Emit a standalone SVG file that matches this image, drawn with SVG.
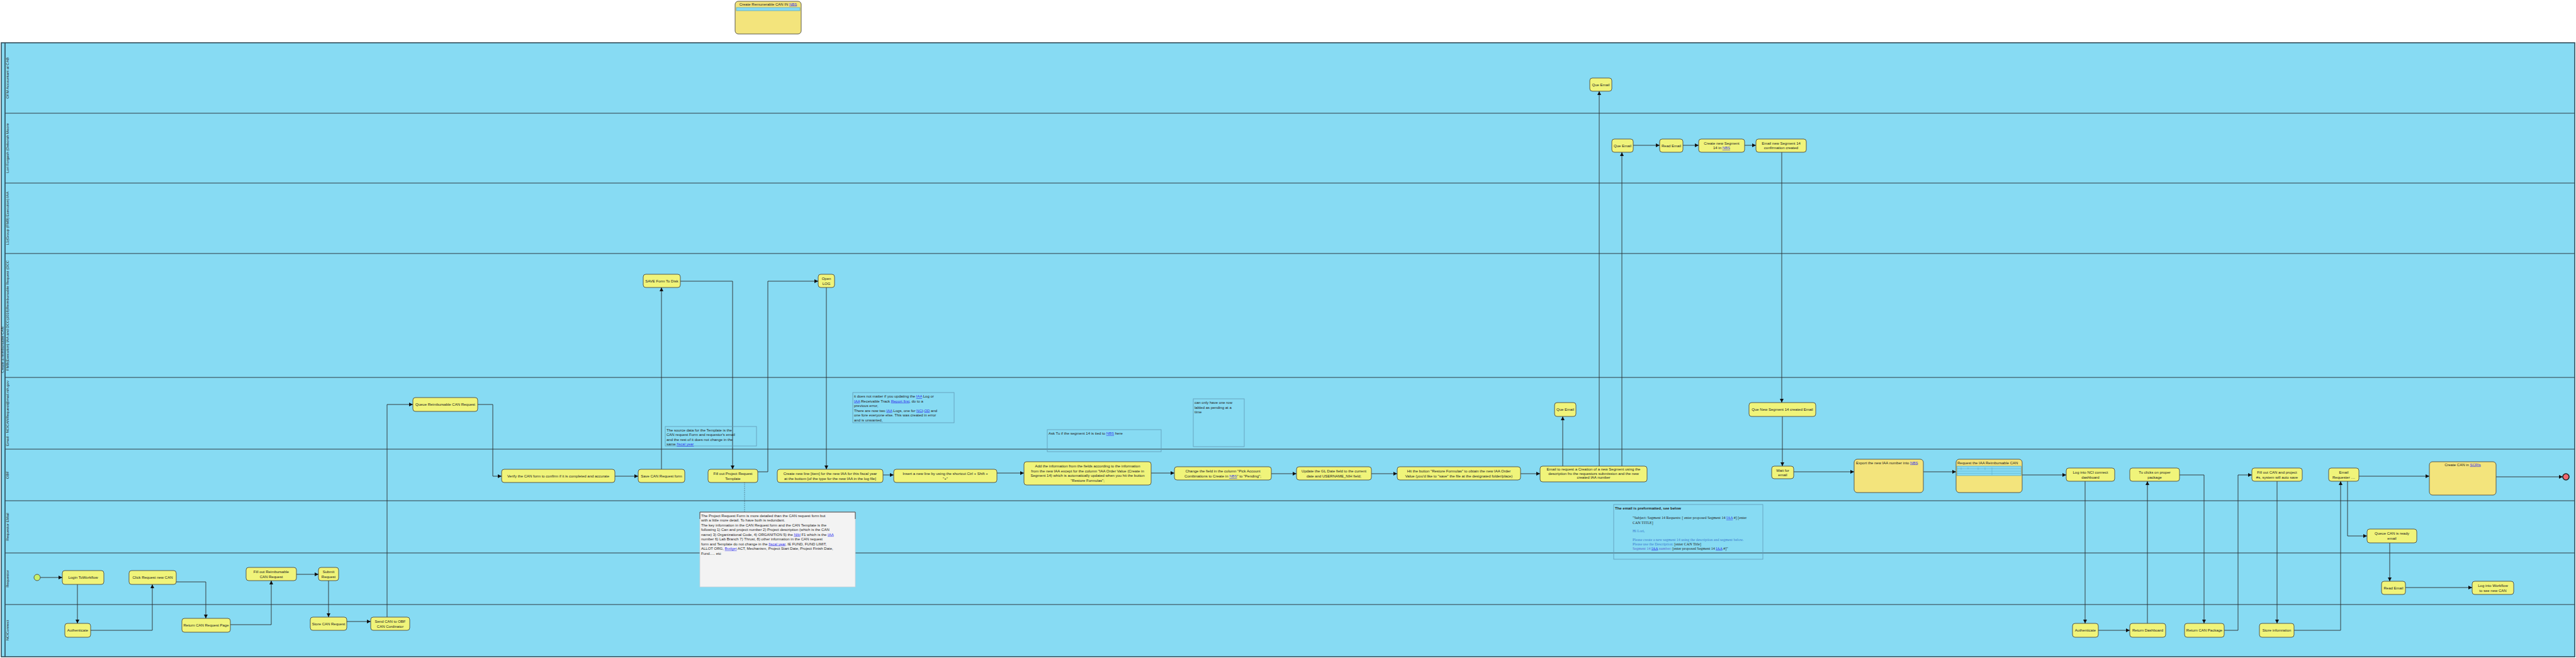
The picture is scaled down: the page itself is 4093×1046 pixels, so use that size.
<svg xmlns="http://www.w3.org/2000/svg" width="4093" height="1046" viewBox="0 0 4093 1046">
<style>
.lane{fill:#87DBF3}
.ll{stroke:#2e3d44;stroke-width:1.1;fill:none}
.pool{stroke:#2e4a58;stroke-width:1.6;fill:none}
.nd{fill:#F0F47A;stroke:#4a4a40;stroke-width:0.9}
.big{fill:#F3E47C;stroke:#4a4a40;stroke-width:0.9}
.note{fill:none;stroke:#5f9ab3;stroke-width:0.8}
.t{font-family:"Liberation Sans",Arial,sans-serif;font-size:6px;fill:#222}
.c{text-anchor:middle}
.lab{font-family:"Liberation Sans",Arial,sans-serif;font-size:6px;fill:#222;text-anchor:middle}
.lk{fill:#3232ee;text-decoration:underline}
.cn{stroke:#2a2a2a;stroke-width:0.9;fill:none;marker-end:url(#ah)}
.sf{font-family:"Liberation Serif","Times New Roman",serif;font-size:6px}
</style>
<defs>
<marker id="ah" viewBox="0 0 10 10" refX="10" refY="5" markerWidth="6" markerHeight="6" markerUnits="userSpaceOnUse" orient="auto">
<path d="M0,0 L10,5 L0,10 z" fill="#111"/>
</marker>
</defs>
<rect x="0" y="0" width="4093" height="1046" fill="#ffffff"/>

<g id="top-note">
<rect x="1168" y="2" width="105" height="52" rx="5" class="big"/>
<text x="1220.5" y="8.5" class="t c" font-size="6.5">Create Remunerable CAN IN <tspan class="lk">NBS</tspan></text>
<rect x="1170" y="12" width="101" height="5" fill="#87DBF3" stroke="#4a9ab8" stroke-width="0.6"/>
</g>

<g id="pool">
<rect x="2" y="68" width="4089" height="976" class="lane"/>
<line x1="8" y1="180" x2="4091" y2="180" class="ll"/>
<line x1="8" y1="291" x2="4091" y2="291" class="ll"/>
<line x1="8" y1="403" x2="4091" y2="403" class="ll"/>
<line x1="8" y1="600" x2="4091" y2="600" class="ll"/>
<line x1="8" y1="714" x2="4091" y2="714" class="ll"/>
<line x1="8" y1="796" x2="4091" y2="796" class="ll"/>
<line x1="8" y1="879" x2="4091" y2="879" class="ll"/>
<line x1="8" y1="961" x2="4091" y2="961" class="ll"/>
<line x1="8" y1="68" x2="8" y2="1044" class="pool"/>
<rect x="2" y="68" width="4089" height="976" class="pool"/>
<text transform="translate(5.5,556) rotate(-90)" class="lab">Create a reimbursable CAN</text>
<text transform="translate(14,124) rotate(-90)" class="lab">OFM Accountant at CAB</text>
<text transform="translate(14,235.5) rotate(-90)" class="lab">Lori Forgash (Deborah Moore</text>
<text transform="translate(14,347) rotate(-90)" class="lab">L1(Group (FMB) Execution) IAA</text>
<text transform="translate(14,501.5) rotate(-90)" class="lab">FMB(Execution) IAA and DCC(2018)Reimbursable Request (DCC</text>
<text transform="translate(14,657) rotate(-90)" class="lab">Email - NCICANRequest@mail.nih.gov</text>
<text transform="translate(14,755) rotate(-90)" class="lab">OBF</text>
<text transform="translate(14,837.5) rotate(-90)" class="lab">Requestor EMail</text>
<text transform="translate(14,920) rotate(-90)" class="lab">Requestor</text>
<text transform="translate(14,1002) rotate(-90)" class="lab">NCIConnect</text>
</g>

<g id="connectors">
<path class="cn" d="M64,918 L99,918"/>
<path class="cn" d="M123,929 L123,991"/>
<path class="cn" d="M144,1002 L242,1002 L242,929"/>
<path class="cn" d="M280,925 L327,925 L327,983"/>
<path class="cn" d="M366,993 L431,993 L431,923"/>
<path class="cn" d="M471,913 L506,913"/>
<path class="cn" d="M522,923 L522,981"/>
<path class="cn" d="M551,988 L589,988"/>
<path class="cn" d="M615,981 L615,643 L656,643"/>
<path class="cn" d="M759,643 L783,643 L783,757 L797,757"/>
<path class="cn" d="M977,757 L1014,757"/>
<path class="cn" d="M1051,746 L1051,457"/>
<path class="cn" d="M1081,447 L1164,447 L1164,746"/>
<path class="cn" d="M1204,750 L1220,750 L1220,447 L1300,447"/>
<path class="cn" d="M1313,457 L1313,746"/>
<path class="cn" d="M1403,755 L1420,755"/>
<path class="cn" d="M1584,752 L1627,752"/>
<path class="cn" d="M1829,752 L1866,752"/>
<path class="cn" d="M2020,753 L2060,753"/>
<path class="cn" d="M2179,753 L2220,753"/>
<path class="cn" d="M2416,753 L2447,753"/>
<path class="cn" d="M2483,741 L2483,662"/>
<path class="cn" d="M2541,741 L2541,145"/>
<path class="cn" d="M2577,741 L2577,242"/>
<path class="cn" d="M2595,231 L2637,231"/>
<path class="cn" d="M2674,231 L2699,231"/>
<path class="cn" d="M2772,231 L2790,231"/>
<path class="cn" d="M2831,242 L2831,640"/>
<path class="cn" d="M2832,662 L2832,741"/>
<path class="cn" d="M2850,750 L2946,750"/>
<path class="cn" d="M3056,750 L3108,750"/>
<path class="cn" d="M3213,755 L3283,755"/>
<path class="cn" d="M3313,765 L3313,991"/>
<path class="cn" d="M3334,1002 L3384,1002"/>
<path class="cn" d="M3412,991 L3412,765"/>
<path class="cn" d="M3463,755 L3502,755 L3502,991"/>
<path class="cn" d="M3534,1002 L3556,1002 L3556,755 L3578,755"/>
<path class="cn" d="M3618,765 L3618,991"/>
<path class="cn" d="M3645,1002 L3719,1002 L3719,765"/>
<path class="cn" d="M3748,757 L3860,757"/>
<path class="cn" d="M3730,765 L3730,852 L3761,852"/>
<path class="cn" d="M3797,863 L3797,924"/>
<path class="cn" d="M3822,934 L3928,934"/>
<path class="cn" d="M3966,758 L4072,758"/>
<path d="M1183,767 L1183,814" stroke="#3a5a6a" stroke-width="0.8" stroke-dasharray="1.5,1.5" fill="none"/>
</g>

<g id="start"><circle cx="59" cy="918" r="5" fill="#C8F06A" stroke="#4a4a40" stroke-width="0.9"/></g>
<g id="end"><circle cx="4077" cy="758" r="5" fill="#F06870" stroke="#222" stroke-width="1.6"/></g>

<g id="n-login"><rect x="99" y="907" width="66" height="22" rx="4" class="nd"/><text x="132" y="920" class="t c">Login ToWorkflow</text></g>
<g id="n-click"><rect x="205" y="907" width="75" height="22" rx="4" class="nd"/><text x="242.5" y="920" class="t c">Click Request new CAN</text></g>
<g id="n-fillreimb"><rect x="391" y="902" width="80" height="21" rx="4" class="nd"/><text x="431" y="911" class="t c">Fill out Reimbursable</text><text x="431" y="919" class="t c">CAN Request</text></g>
<g id="n-submit"><rect x="506" y="902" width="32" height="21" rx="4" class="nd"/><text x="522" y="911" class="t c">Submit</text><text x="522" y="919" class="t c">Request</text></g>
<g id="n-auth1"><rect x="103" y="991" width="41" height="22" rx="4" class="nd"/><text x="123.5" y="1004" class="t c">Authenticate</text></g>
<g id="n-retpage"><rect x="289" y="983" width="77" height="22" rx="4" class="nd"/><text x="327.5" y="996" class="t c">Return CAN Request Page</text></g>
<g id="n-store"><rect x="493" y="981" width="58" height="21" rx="4" class="nd"/><text x="522" y="993.5" class="t c">Store CAN Request</text></g>
<g id="n-send"><rect x="589" y="981" width="62" height="21" rx="4" class="nd"/><text x="620" y="990" class="t c">Send CAN to OBF</text><text x="620" y="998" class="t c">CAN Cordinator</text></g>
<g id="n-queue"><rect x="656" y="632" width="103" height="22" rx="4" class="nd"/><text x="707.5" y="645" class="t c">Queue Reimbursable CAN Request</text></g>
<g id="n-savedisk"><rect x="1022" y="436" width="59" height="21" rx="4" class="nd"/><text x="1051.5" y="448.5" class="t c">SAVE Form To Disk</text></g>
<g id="n-openlog"><rect x="1300" y="436" width="26" height="21" rx="4" class="nd"/><text x="1313" y="445" class="t c">Open</text><text x="1313" y="453" class="t c">LOG</text></g>
<g id="n-verify"><rect x="797" y="746" width="180" height="21" rx="4" class="nd"/><text x="887" y="758.5" class="t c">Verify the CAN form to confirm if it is completed and accurate</text></g>
<g id="n-savecan"><rect x="1014" y="746" width="74" height="21" rx="4" class="nd"/><text x="1051" y="758.5" class="t c">Save CAN Request form</text></g>
<g id="n-fillproj"><rect x="1125" y="746" width="79" height="21" rx="4" class="nd"/><text x="1164.5" y="755" class="t c">Fill out Project Request</text><text x="1164.5" y="763" class="t c">Template</text></g>
<g id="n-createline"><rect x="1235" y="746" width="168" height="21" rx="4" class="nd"/><text x="1319" y="755" class="t c" font-size="5.6">Create new line [item] for the new IAA for this fiscal year</text><text x="1319" y="763" class="t c" font-size="5.6">at the bottom [of the type for the new IAA in the log file]</text></g>
<g id="n-insert"><rect x="1420" y="746" width="164" height="21" rx="4" class="nd"/><text x="1502" y="755" class="t c">Insert a new line by using the shortcut Ctrl + Shift +</text><text x="1502" y="763" class="t c">"+"</text></g>
<g id="n-add"><rect x="1627" y="734" width="202" height="37" rx="4" class="nd"/>
<text x="1728" y="743" class="t c" font-size="5.6">Add the information from the fields according to the information</text>
<text x="1728" y="750.5" class="t c" font-size="5.6">from the new IAA except for the column "IAA Order Value (Create in</text>
<text x="1728" y="758" class="t c" font-size="5.6">Segment 14) which is automatically updated when you hit the button</text>
<text x="1728" y="765.5" class="t c" font-size="5.6">"Restore Formulas";</text></g>
<g id="n-change"><rect x="1866" y="742" width="154" height="21" rx="4" class="nd"/><text x="1943" y="751" class="t c">Change the field in the column "Pick Account</text><text x="1943" y="759" class="t c">Combinations to Create in <tspan class="lk">NBS</tspan>" to "Pending";</text></g>
<g id="n-update"><rect x="2060" y="742" width="119" height="21" rx="4" class="nd"/><text x="2119.5" y="751" class="t c">Update the GL Date field to the current</text><text x="2119.5" y="759" class="t c">date and USERNAME_NIH field;</text></g>
<g id="n-hit"><rect x="2220" y="742" width="196" height="21" rx="4" class="nd"/><text x="2318" y="751" class="t c">Hit the button "Restore Formulas" to obtain the new IAA Order</text><text x="2318" y="759" class="t c">Value (you'd like to "save" the file at the designated folder/place)</text></g>
<g id="n-emailreq"><rect x="2447" y="741" width="170" height="25" rx="4" class="nd"/>
<text x="2532" y="748" class="t c" font-size="5.5">Email to request a Creation of a new Segment using the</text>
<text x="2532" y="754.5" class="t c" font-size="5.5">description fro the requestors submission and the new</text>
<text x="2532" y="761" class="t c" font-size="5.5">created IAA number</text></g>
<g id="n-queemail1"><rect x="2526" y="124" width="35" height="21" rx="4" class="nd"/><text x="2543.5" y="136.5" class="t c">Que Email</text></g>
<g id="n-queemail2"><rect x="2561" y="221" width="34" height="21" rx="4" class="nd"/><text x="2578" y="233.5" class="t c">Que Email</text></g>
<g id="n-reademail"><rect x="2637" y="221" width="37" height="21" rx="4" class="nd"/><text x="2655.5" y="233.5" class="t c">Read Email</text></g>
<g id="n-createseg"><rect x="2699" y="221" width="73" height="21" rx="4" class="nd"/><text x="2735.5" y="230" class="t c">Create new Segment</text><text x="2735.5" y="237" class="t c">14 in <tspan class="lk">NBS</tspan></text></g>
<g id="n-emailnew"><rect x="2790" y="221" width="80" height="21" rx="4" class="nd"/><text x="2830" y="230" class="t c">Email new Segment 14</text><text x="2830" y="237" class="t c">confirmation created</text></g>
<g id="n-queemail3"><rect x="2470" y="640" width="34" height="22" rx="4" class="nd"/><text x="2487" y="653" class="t c">Que Email</text></g>
<g id="n-queseg"><rect x="2779" y="640" width="106" height="22" rx="4" class="nd"/><text x="2832" y="653" class="t c">Que New Segment 14 created Email</text></g>
<g id="n-wait"><rect x="2815" y="741" width="35" height="20" rx="4" class="nd"/><text x="2832.5" y="749.5" class="t c">Wait for</text><text x="2832.5" y="756.5" class="t c">email</text></g>
<g id="n-export"><rect x="2946" y="730" width="110" height="53" rx="5" class="big"/><text x="2949" y="737.5" class="t">Export the new IAA number into <tspan class="lk">NBS</tspan></text></g>
<g id="n-reqiaa"><rect x="3108" y="730" width="105" height="53" rx="5" class="big"/><text x="3110" y="737.5" class="t">Request the IAA Reimbursable CAN</text>
<rect x="3109.5" y="741" width="102" height="15" fill="#87DBF3" stroke="#4a9ab8" stroke-width="0.6"/>
<path d="M3110,745 H3211 M3110,749 H3211 M3110,752.5 H3211 M3116,743 V747 M3127,743 V746 M3143,743 V747 M3154,743 V747 M3165,743 V755" stroke="#4a9ab8" stroke-width="0.4" fill="none"/></g>
<g id="n-lognci"><rect x="3283" y="744" width="77" height="21" rx="4" class="nd"/><text x="3321.5" y="753" class="t c">Log into NCI connect</text><text x="3321.5" y="761" class="t c">dashboard</text></g>
<g id="n-tu"><rect x="3384" y="744" width="79" height="21" rx="4" class="nd"/><text x="3423.5" y="753" class="t c">Tu clicks on proper</text><text x="3423.5" y="761" class="t c">package</text></g>
<g id="n-auth2"><rect x="3293" y="991" width="41" height="22" rx="4" class="nd"/><text x="3313.5" y="1004" class="t c">Authenticate</text></g>
<g id="n-retdash"><rect x="3384" y="991" width="57" height="22" rx="4" class="nd"/><text x="3412.5" y="1004" class="t c">Return Dashboard</text></g>
<g id="n-retpkg"><rect x="3471" y="991" width="63" height="22" rx="4" class="nd"/><text x="3502.5" y="1004" class="t c">Return CAN Package</text></g>
<g id="n-fillcan"><rect x="3578" y="744" width="80" height="21" rx="4" class="nd"/><text x="3618" y="753" class="t c">Fill out CAN and project</text><text x="3618" y="761" class="t c">#s, system will auto save</text></g>
<g id="n-storeinfo"><rect x="3590" y="991" width="55" height="22" rx="4" class="nd"/><text x="3617.5" y="1004" class="t c">Store infomration</text></g>
<g id="n-emailrequester"><rect x="3700" y="744" width="48" height="21" rx="4" class="nd"/><text x="3724" y="753" class="t c">Email</text><text x="3724" y="761" class="t c">Requester ....</text></g>
<g id="n-createcan"><rect x="3860" y="734" width="106" height="53" rx="5" class="big"/><text x="3913" y="740.5" class="t c">Create CAN in <tspan class="lk">SCRIs</tspan></text></g>
<g id="n-queuecan"><rect x="3761" y="841" width="79" height="22" rx="4" class="nd"/><text x="3800.5" y="850" class="t c">Queue  CAN is ready</text><text x="3800.5" y="858" class="t c">email</text></g>
<g id="n-read2"><rect x="3784" y="924" width="38" height="21" rx="4" class="nd"/><text x="3803" y="936.5" class="t c">Read Email</text></g>
<g id="n-logwf"><rect x="3928" y="924" width="66" height="21" rx="4" class="nd"/><text x="3961" y="933" class="t c">Log into Workflow</text><text x="3961" y="941" class="t c">to see new CAN</text></g>

<g id="note-source"><rect x="1057" y="678" width="145" height="31" class="note"/>
<text x="1059" y="685.5" class="t">The source data for the Template is the</text>
<text x="1059" y="693" class="t">CAN request Form and requestor's email</text>
<text x="1059" y="700.5" class="t">and the rest of it does not change in the</text>
<text x="1059" y="708" class="t">same <tspan class="lk">fiscal year</tspan></text></g>

<g id="note-matter"><rect x="1355" y="624" width="161" height="48" class="note"/>
<text x="1357" y="632" class="t">it does not matter if you updating the <tspan class="lk">IAA</tspan> Log or</text>
<text x="1357" y="639.5" class="t"><tspan class="lk">IAA</tspan> Receivable Track <tspan class="lk">Report first</tspan>,  do to a</text>
<text x="1357" y="647" class="t">previous error,</text>
<text x="1357" y="654.5" class="t">There are now two <tspan class="lk">IAA</tspan> Logs, one for <tspan class="lk">NCI</tspan>-<tspan class="lk">OD</tspan> and</text>
<text x="1357" y="662" class="t">one fore everyone else. This was created in error</text>
<text x="1357" y="669.5" class="t">and is unwanted,</text></g>

<g id="note-asktu"><rect x="1664" y="683" width="181" height="35" class="note"/>
<text x="1666" y="691" class="t">Ask Tu if the segment 14 is tied to <tspan class="lk">NBS</tspan> here</text></g>

<g id="note-pending"><rect x="1896" y="634" width="81" height="76" class="note"/>
<text x="1898" y="642" class="t">can only have one row</text>
<text x="1898" y="649.5" class="t">labled as pending at a</text>
<text x="1898" y="657" class="t">time</text></g>

<g id="note-project"><rect x="1112" y="814" width="247" height="119" fill="#F3F3F3" stroke="#c8d0d4" stroke-width="0.8"/>
<line x1="1112" y1="814" x2="1359" y2="814" stroke="#444" stroke-width="1"/>
<line x1="1112" y1="814" x2="1112" y2="825" stroke="#444" stroke-width="1"/>
<line x1="1359" y1="814" x2="1359" y2="825" stroke="#444" stroke-width="1"/>
<text x="1114" y="822" class="t" font-size="5.8">The Project Request Form is more detailed than the CAN request form but</text>
<text x="1114" y="829" class="t" font-size="5.8">with a little more detail. To have both is redundant.</text>
<text x="1114" y="836.5" class="t" font-size="5.8">The key information in the CAN Request form and the CAN Template is the</text>
<text x="1114" y="844" class="t" font-size="5.8">following 1) Can and project number 2) Project description (which is the CAN</text>
<text x="1114" y="851.5" class="t" font-size="5.8">name) 3) Organizational Code, 4) ORGANITION 5) the <tspan class="lk">NIH</tspan> F1 which is the <tspan class="lk">IAA</tspan></text>
<text x="1114" y="859" class="t" font-size="5.8">number 6) Lab Branch 7) Thrust, 8) other information in the CAN request</text>
<text x="1114" y="866.5" class="t" font-size="5.8">form and Template do not change in the <tspan class="lk">fiscal year</tspan>, IE FUND, FUND LIMIT,</text>
<text x="1114" y="874" class="t" font-size="5.8">ALLOT ORG, <tspan class="lk">Budget</tspan> ACT, Mechanism, Project Start Date, Project Finish Date,</text>
<text x="1114" y="881.5" class="t" font-size="5.8">Fund..... etc</text></g>

<g id="note-email"><rect x="2564" y="802" width="237" height="87" class="note"/>
<text x="2566" y="809.5" class="t" font-weight="bold">The email is preformatted, see below</text>
<text x="2594" y="825" class="t sf">"Subject: Segment 14 Requests: [ enter proposed Segment 14 <tspan class="lk">IAA</tspan> #] [enter</text>
<text x="2594" y="832.5" class="t sf">CAN TITLE]</text>
<text x="2594" y="846" class="t sf" style="fill:#3a7ad0">Hi Lori,</text>
<text x="2594" y="860" class="t sf" style="fill:#3a7ad0">Please create a new segment 14 using the description and segment below.</text>
<text x="2594" y="866.5" class="t sf"><tspan style="fill:#3a7ad0">Please use the Description:</tspan>    [enter CAN Title]</text>
<text x="2594" y="873.5" class="t sf"><tspan style="fill:#5a6ad0">Segment 14 </tspan><tspan class="lk">IAA</tspan><tspan style="fill:#5a6ad0"> number: </tspan>[enter proposed Segment 14 <tspan class="lk">IAA</tspan> #]"</text></g>
</svg>
